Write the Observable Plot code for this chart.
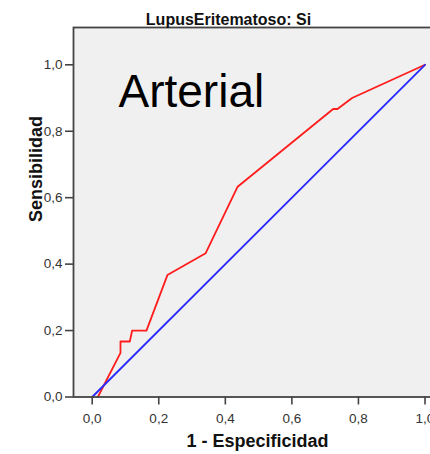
<!DOCTYPE html>
<html>
<head>
<meta charset="utf-8">
<script src="https://cdn.jsdelivr.net/npm/d3@7"></script>
<script src="https://cdn.jsdelivr.net/npm/@observablehq/plot@0.6"></script>
<style>
  html, body { margin: 0; padding: 0; background: #fff; overflow: hidden; }
</style>
</head>
<body>
<div id="chart"></div>
<script>
// ROC curve (1 - specificity, sensitivity)
const fpr = [0.017, 0.085, 0.085, 0.113, 0.120, 0.163, 0.226, 0.341, 0.437, 0.724, 0.737, 0.781, 1.0];
const tpr = [0.000, 0.133, 0.167, 0.167, 0.200, 0.200, 0.367, 0.433, 0.633, 0.867, 0.867, 0.900, 1.0];
// Reference diagonal
const refX = [0, 1];
const refY = [0, 1];
// Ticks
const tickValues = [0, 0.2, 0.4, 0.6, 0.8, 1.0];
const titleText = "LupusEritematoso: Si";
const annotation = "Arterial";
const xLabel = "1 - Especificidad";
const yLabel = "Sensibilidad";

const roc = fpr.map((x, i) => ({x, y: tpr[i]}));
const diag = refX.map((x, i) => ({x, y: refY[i]}));
const fmt = d => d.toFixed(1).replace(".", ",");
const font = "'Liberation Sans', Arial, sans-serif";

const chart = Plot.plot({
  width: 430,
  height: 454,
  marginLeft: 73,
  marginRight: -14,
  marginTop: 27,
  marginBottom: 57.5,
  style: {fontFamily: font, fontSize: "13.5px", color: "#333", background: "#fff"},
  x: {domain: [-0.0562, 1.0586]},
  y: {domain: [0, 1.1123]},
  marks: [
    Plot.frame({fill: "#f0f0f0", stroke: null}),
    Plot.line(roc, {x: "x", y: "y", stroke: "#ff1c1c", strokeWidth: 1.8}),
    Plot.line(diag, {x: "x", y: "y", stroke: "#2a2aff", strokeWidth: 1.8}),
    Plot.frame({stroke: "#444", strokeWidth: 1.8}),
    Plot.axisX({ticks: tickValues, tickFormat: fmt, tickSize: 8, tickPadding: 8, stroke: "#444", strokeWidth: 1.6, fill: "#333", fontSize: 13.5, label: null}),
    Plot.axisY({ticks: tickValues, tickFormat: fmt, tickSize: 8, tickPadding: 3, stroke: "#444", strokeWidth: 1.6, fill: "#333", fontSize: 13.5, label: null}),
    Plot.text([annotation], {text: d => d, frameAnchor: "top-left", textAnchor: "start", lineAnchor: "top", dx: 45, dy: 47, fontSize: 46, fill: "#000"}),
    Plot.text([titleText], {text: d => d, frameAnchor: "top", lineAnchor: "bottom", dx: -30.5, dy: -3, fontSize: 16, fontWeight: "bold", fill: "#111"}),
    Plot.text([xLabel], {text: d => d, frameAnchor: "bottom", lineAnchor: "bottom", dx: -1.5, dy: 50, fontSize: 18, fontWeight: "bold", fill: "#111"}),
    Plot.text([yLabel], {text: d => d, frameAnchor: "left", lineAnchor: "middle", rotate: -90, dx: -37, dy: 9.75, fontSize: 18, fontWeight: "bold", fill: "#111"})
  ]
});
document.getElementById("chart").appendChild(chart);
</script>
</body>
</html>
